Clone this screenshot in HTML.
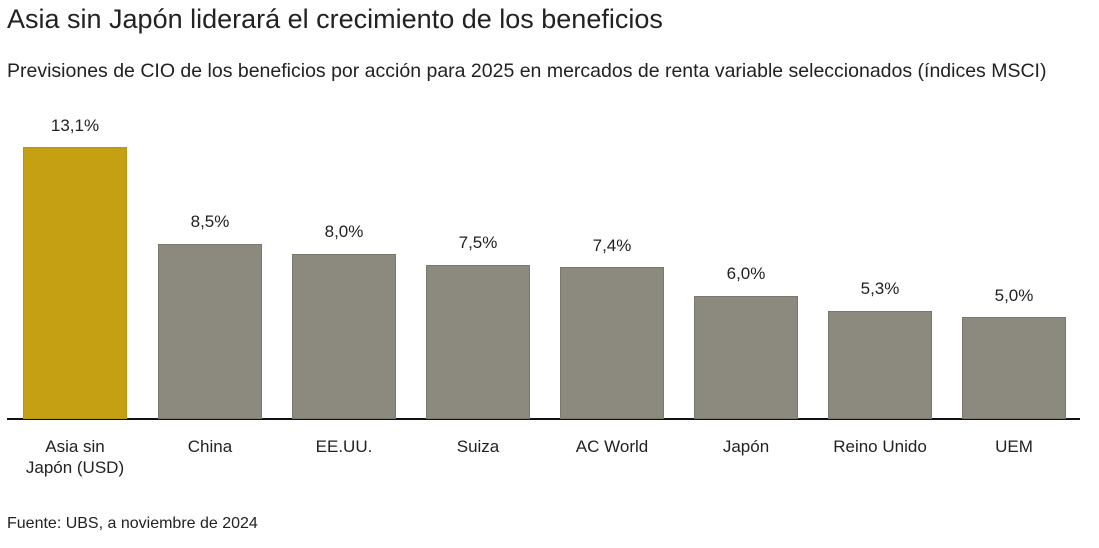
<!DOCTYPE html>
<html><head><meta charset="utf-8"><style>
body{margin:0;width:1099px;height:548px;background:#fff;font-family:"Liberation Sans",sans-serif;color:#222;position:relative;overflow:hidden}
.t{position:absolute;white-space:nowrap}
.bar{position:absolute;background:#8C8A7E;border:1px solid #7a786d;box-sizing:border-box;width:104px}
.v{position:absolute;width:104px;text-align:center;font-size:17px}
.l{position:absolute;width:134px;text-align:center;font-size:17px;line-height:21px;top:436px}
</style></head><body>
<div class="t" style="left:7px;top:4px;font-size:27px">Asia sin Japón liderará el crecimiento de los beneficios</div>
<div class="t" style="left:7px;top:60px;font-size:19.5px">Previsiones de CIO de los beneficios por acción para 2025 en mercados de renta variable seleccionados (índices MSCI)</div>
<div style="position:absolute;left:7px;top:418px;width:1073px;height:2px;background:#111"></div>
<div class="bar" style="left:23px;top:147px;height:272px;background:#C4A012;border-color:#b8960f"></div>
<div class="v" style="left:23px;top:116px">13,1%</div>
<div class="bar" style="left:158px;top:244px;height:175px"></div><div class="v" style="left:158px;top:212px">8,5%</div>
<div class="bar" style="left:292px;top:254px;height:165px"></div><div class="v" style="left:292px;top:222px">8,0%</div>
<div class="bar" style="left:426px;top:265px;height:154px"></div><div class="v" style="left:426px;top:233px">7,5%</div>
<div class="bar" style="left:560px;top:267px;height:152px"></div><div class="v" style="left:560px;top:236px">7,4%</div>
<div class="bar" style="left:694px;top:296px;height:123px"></div><div class="v" style="left:694px;top:264px">6,0%</div>
<div class="bar" style="left:828px;top:311px;height:108px"></div><div class="v" style="left:828px;top:279px">5,3%</div>
<div class="bar" style="left:962px;top:317px;height:102px"></div><div class="v" style="left:962px;top:286px">5,0%</div>
<div class="l" style="left:8px">Asia sin<br>Japón (USD)</div>
<div class="l" style="left:143px">China</div>
<div class="l" style="left:277px">EE.UU.</div>
<div class="l" style="left:411px">Suiza</div>
<div class="l" style="left:545px">AC World</div>
<div class="l" style="left:679px">Japón</div>
<div class="l" style="left:813px">Reino Unido</div>
<div class="l" style="left:947px">UEM</div>
<div class="t" style="left:7px;top:515px;font-size:16px">Fuente: UBS, a noviembre de 2024</div>
</body></html>
